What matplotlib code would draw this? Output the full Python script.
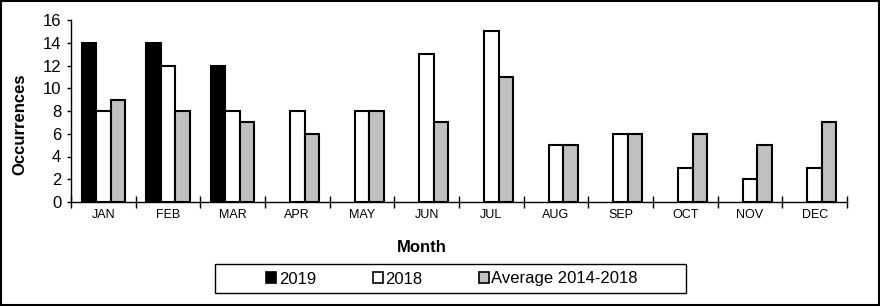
import numpy as np
import matplotlib
matplotlib.use("Agg")
import matplotlib.pyplot as plt
from matplotlib.patches import Rectangle

plt.rcParams.update({
    "font.family": ["Liberation Sans", "DejaVu Sans"],
    "axes.linewidth": 1.0,
})

# ── Data ─────────────────────────────────────────────────────────────────────
months = ["JAN", "FEB", "MAR", "APR", "MAY", "JUN",
          "JUL", "AUG", "SEP", "OCT", "NOV", "DEC"]
occ_2019 = [14, 14, 12, 0, 0, 0, 0, 0, 0, 0, 0, 0]
occ_2018 = [8, 12, 8, 8, 8, 13, 15, 5, 6, 3, 2, 3]
occ_avg = [9, 8, 7, 6, 8, 7, 11, 5, 6, 6, 5, 7]
labels = ["2019", "2018", "Average 2014-2018"]
colors = ["#000000", "#FFFFFF", "#C0C0C0"]
yticks = [0, 2, 4, 6, 8, 10, 12, 14, 16]

# ── Figure ───────────────────────────────────────────────────────────────────
W, H = 880, 306
fig = plt.figure(figsize=(W / 100, H / 100), dpi=100)
ax = fig.add_axes([71 / W, 1 - 202 / H, (847 - 71) / W, (202 - 20) / H])

x = np.arange(len(months))
w = 0.225
series = [occ_2019, occ_2018, occ_avg]
handles = []
for i, (vals, col, lab) in enumerate(zip(series, colors, labels)):
    v = np.array(vals, dtype=float)
    # 2019 only has data for first three months
    mask = v > 0 if i == 0 else np.ones_like(v, dtype=bool)
    bars = ax.bar(x[mask] + (i - 1) * w, v[mask], width=w, color=col,
                  edgecolor="black", linewidth=1.5, zorder=3, label=lab)
    handles.append(bars)

ax.set_xlim(-0.5, len(months) - 0.5)
ax.set_ylim(0, 16)
ax.set_yticks(yticks)
ax.tick_params(axis="y", direction="out", length=3, width=1.0,
               labelsize=12, pad=4)
ax.set_xticks(np.arange(-0.5, len(months) + 0.5, 1))
ax.set_xticklabels([])
ax.set_xticks(x, minor=True)
ax.set_xticklabels(months, minor=True)
ax.tick_params(axis="x", which="major", direction="inout", length=8, width=1.0)
ax.tick_params(axis="x", which="minor", length=0, labelsize=9, pad=5)

for s in ["top", "right"]:
    ax.spines[s].set_visible(False)

# axis titles
fig.text(20 / W, 1 - 124 / H, "Occurrences", rotation=90, fontsize=12,
         fontweight="bold", ha="center", va="center")
fig.text(422 / W, 1 - 247 / H, "Month", fontsize=12, fontweight="bold",
         ha="center", va="center")

# legend with a hand-drawn frame (wide horizontal padding)
leg = fig.legend(handles=handles, labels=labels, loc="center",
                 bbox_to_anchor=(452 / W, 1 - 279 / H), ncol=3,
                 frameon=False, fontsize=12, handlelength=0.6,
                 handleheight=0.6, handletextpad=0.15, columnspacing=3.4)
for h in leg.legend_handles:
    h.set_linewidth(1.2)
fig.patches.append(Rectangle((215 / W, 1 - 293 / H), (686 - 215) / W, 29 / H,
                             transform=fig.transFigure, fill=False,
                             edgecolor="black", linewidth=1.0))

# outer border
fig.patches.append(Rectangle((0.001, 0.002), 0.998, 0.996, transform=fig.transFigure,
                             fill=False, edgecolor="black", linewidth=1.5))

fig.savefig("out.png", dpi=100)
